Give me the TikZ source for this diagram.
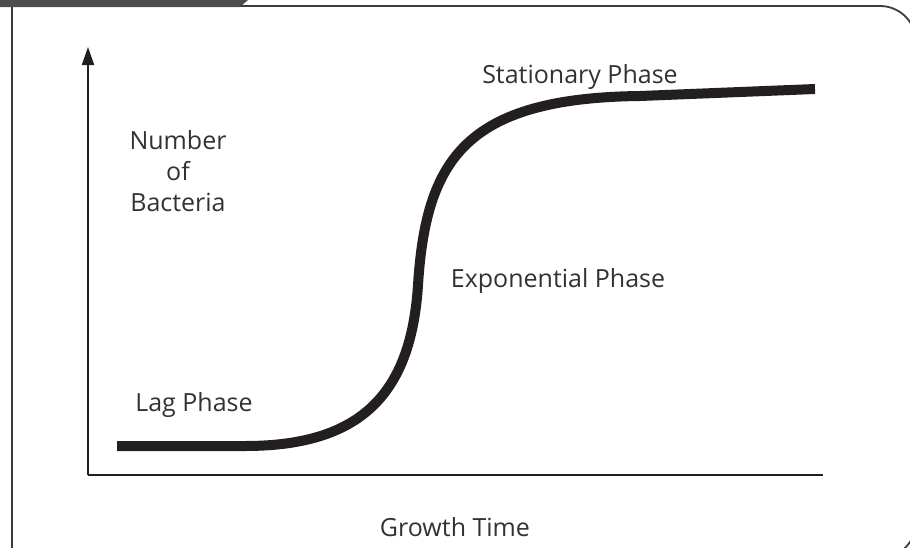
\documentclass[tikz,border=0pt]{standalone}
\usepackage{fontspec}
\setmainfont{Open Sans}
\usepackage{tikz}
\usetikzlibrary{arrows,arrows.meta}

\definecolor{tabgray}{RGB}{77,77,77}
\definecolor{framegray}{RGB}{60,60,60}
\definecolor{inkblack}{RGB}{35,31,32}
\definecolor{textgray}{RGB}{50,50,50}

\begin{document}
\begin{tikzpicture}[x=1pt,y=-1pt,
  phaselabel/.style={font=\fontsize{25}{31}\selectfont, color=textgray, inner sep=0pt},
  axisline/.style={line width=2pt, color=inkblack},
  growth/.style={line width=10pt, color=inkblack, line cap=butt, line join=round}]

\useasboundingbox (0,0) rectangle (910,547);
\clip (0,0) rectangle (910,547);

% frame and tab
\draw[line width=1.8pt, framegray]
  (12,600) -- (12,6) [rounded corners=36pt] -- (916,6) -- (916,558) -- (12,558);
\fill[tabgray] (0,0) -- (248,0) -- (240,7) -- (0,7) -- cycle;

% axes
\coordinate (origin) at (88,475);
\coordinate (ytop) at (88,47);
\coordinate (xend) at (823,475);
\draw[axisline] (origin) -- (xend);
\draw[axisline,-{Triangle[length=18pt,width=12pt]}] (origin) -- (ytop);

% growth curve
\draw[growth] (117,446) -- (245,446)
  .. controls (360,446) and (411,395) .. (418,285)
  .. controls (426,160) and (465,98) .. (640,96)
  -- (815,89);

% labels
\draw (580,77) node[phaselabel] (stationary) {Stationary Phase};
\draw (178,171) node[phaselabel, align=center] (yname) {Number\\of\\Bacteria};
\draw (558,281) node[phaselabel] (exponential) {Exponential Phase};
\draw (194,405) node[phaselabel] (lag) {Lag Phase};
\draw (455,527) node[phaselabel] (xname) {Growth Time};
\end{tikzpicture}
\end{document}
